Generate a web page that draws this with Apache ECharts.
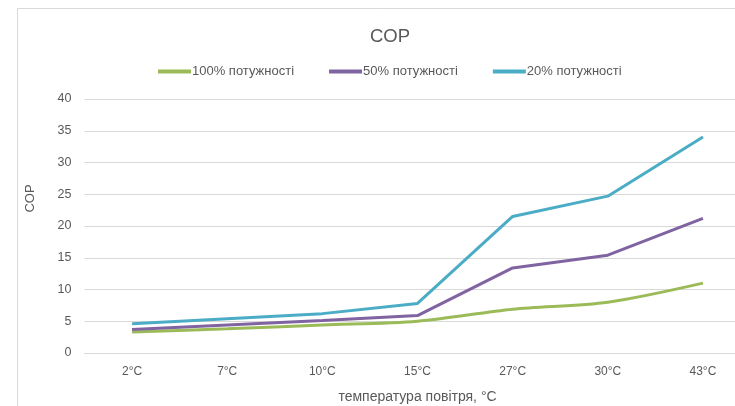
<!DOCTYPE html>
<html>
<head>
<meta charset="utf-8">
<script src="https://cdn.jsdelivr.net/npm/echarts@6/dist/echarts.min.js"></script>
<style>
html,body{margin:0;padding:0;background:#fff;}
#chart{width:735px;height:406px;}
</style>
</head>
<body>
<div id="chart"></div>
<script>
const categories = ['2°C','7°C','10°C','15°C','27°C','30°C','43°C'];
const power100 = [3.3, 3.8, 4.4, 5.0, 6.9, 8.0, 11.0];
const power50 = [3.7, 4.4, 5.1, 5.9, 13.4, 15.4, 21.2];
const power20 = [4.6, 5.4, 6.2, 7.8, 21.5, 24.7, 34.0];
const seriesNames = ['100% потужності','50% потужності','20% потужності'];
const yTicks = {min: 0, max: 40, interval: 5};

const font = '"Liberation Sans", Arial, sans-serif';
const chart = echarts.init(document.getElementById('chart'));
chart.setOption({
  animation: false,
  color: ['#9BBB59', '#8064A2', '#4BACC6'],
  graphic: [{
    type: 'rect', shape: {x: 17.5, y: 8.5, width: 800, height: 500},
    style: {fill: 'none', stroke: '#d9d9d9', lineWidth: 1}, silent: true, z: -1
  }],
  title: {
    text: 'COP', left: 385, top: 22, textAlign: 'center',
    textStyle: {fontFamily: font, fontSize: 18.5, fontWeight: 'normal', color: '#595959'}
  },
  legend: {
    top: 65, left: 158, padding: 0, itemWidth: 33, itemHeight: 4, itemGap: 35,
    icon: 'rect',
    textStyle: {fontFamily: font, fontSize: 13, color: '#595959', padding: [0,0,0,-4]},
    data: seriesNames
  },
  grid: {left: 84.5, width: 666, top: 99, bottom: 53, containLabel: false, outerBoundsMode: 'none'},
  xAxis: {
    type: 'category', data: categories, boundaryGap: true,
    name: 'температура повітря, °C', nameLocation: 'middle', nameGap: 37,
    nameTextStyle: {fontFamily: font, fontSize: 14, color: '#595959'},
    axisLine: {show: true, lineStyle: {color: '#d9d9d9'}},
    axisTick: {show: false},
    axisLabel: {fontFamily: font, fontSize: 12, color: '#595959', margin: 13}
  },
  yAxis: {
    type: 'value', min: yTicks.min, max: yTicks.max, interval: yTicks.interval,
    name: 'COP', nameLocation: 'middle', nameGap: 48, nameRotate: 90,
    nameTextStyle: {fontFamily: font, fontSize: 13, color: '#595959', padding: [0, 0, 0, 55]},
    axisLine: {show: false}, axisTick: {show: false},
    splitLine: {lineStyle: {color: '#d9d9d9', width: 1}},
    axisLabel: {fontFamily: font, fontSize: 12.5, color: '#595959', margin: 13}
  },
  series: [
    {name: seriesNames[0], type: 'line', data: power100, smooth: 0.3, showSymbol: false, lineStyle: {width: 3}},
    {name: seriesNames[1], type: 'line', data: power50, showSymbol: false, lineStyle: {width: 3}},
    {name: seriesNames[2], type: 'line', data: power20, showSymbol: false, lineStyle: {width: 3}}
  ]
});
</script>
</body>
</html>
